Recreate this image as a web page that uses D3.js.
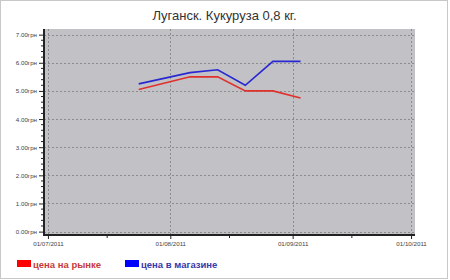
<!DOCTYPE html>
<html>
<head>
<meta charset="utf-8">
<script src="https://cdn.jsdelivr.net/npm/d3@7"></script>
<style>
  body { margin: 0; background: #fff; }
  svg { display: block; font-family: "Liberation Sans", Arial, sans-serif; }
</style>
</head>
<body>
<svg></svg>
<script>
const title = 'Луганск. Кукуруза 0,8 кг.'
const dates = ['2011-07-24', '2011-08-06', '2011-08-13', '2011-08-20', '2011-08-27', '2011-09-03']
const marketPrice = [5.05, 5.5, 5.5, 5.0, 5.0, 4.75]
const shopPrice = [5.25, 5.65, 5.75, 5.2, 6.05, 6.05]
const seriesNames = ['цена на рынке', 'цена в магазине']
const yTicks = [0, 1, 2, 3, 4, 5, 6, 7]
const xTicks = ['2011-07-01', '2011-08-01', '2011-09-01', '2011-10-01']
const xMinorTicks = ['2011-07-16', '2011-08-16', '2011-09-16']

const
    svgWidth = 450,
    svgHeight = 280,
    plot = { left: 44, right: 415, top: 29, bottom: 235 };

const parse = d3.timeParse('%Y-%m-%d')

let svg = d3.select('svg')
    .attr('width', svgWidth)
    .attr('height', svgHeight)

// outer frame
svg.append('rect')
    .attr('x', 0.5).attr('y', 0.5)
    .attr('width', svgWidth - 3).attr('height', svgHeight - 2)
    .attr('fill', '#fff')
    .attr('stroke', '#c8c8c8')

let x = d3.scaleTime()
    .domain([parse('2011-06-30'), parse('2011-10-02')])
    .range([plot.left, plot.right])

let y = d3.scaleLinear()
    .domain([-0.12, 7.2])
    .range([plot.bottom, plot.top])

svg.append('text')
    .attr('x', 224.5)
    .attr('y', 20)
    .attr('text-anchor', 'middle')
    .attr('font-size', 13)
    .attr('fill', '#333')
    .text(title)

svg.append('rect')
    .attr('x', plot.left).attr('y', plot.top)
    .attr('width', plot.right - plot.left)
    .attr('height', plot.bottom - plot.top)
    .attr('fill', '#c2c1c6')

// grid
svg.append('g').selectAll('line')
    .data(yTicks)
    .enter()
    .append('line')
        .attr('x1', plot.left).attr('x2', plot.right)
        .attr('y1', d => Math.round(y(d)) + 0.5)
        .attr('y2', d => Math.round(y(d)) + 0.5)
        .attr('stroke', '#8c8c8c')
        .attr('stroke-dasharray', '2,2')

svg.append('g').selectAll('line')
    .data(xTicks.map(parse))
    .enter()
    .append('line')
        .attr('y1', plot.top).attr('y2', plot.bottom)
        .attr('x1', d => Math.round(x(d)) + 0.5)
        .attr('x2', d => Math.round(x(d)) + 0.5)
        .attr('stroke', '#8c8c8c')
        .attr('stroke-dasharray', '2,2')

// axes
let yAxis = svg.append('g')
    .attr('transform', `translate(${plot.left},0)`)
    .call(d3.axisLeft(y).tickValues(yTicks).tickSize(5).tickPadding(2)
        .tickFormat(d => d3.format('.2f')(d) + 'грн'))
yAxis.append('g').selectAll('line')
    .data(d3.range(0, 35).map(i => i / 5).filter(v => v % 1 !== 0))
    .enter()
    .append('line')
        .attr('x1', -3).attr('x2', 0)
        .attr('y1', d => y(d)).attr('y2', d => y(d))
        .attr('stroke', '#222')

let xAxis = svg.append('g')
    .attr('transform', `translate(0,${plot.bottom})`)
    .call(d3.axisBottom(x).tickValues(xTicks.map(parse)).tickSize(4).tickPadding(3)
        .tickFormat(d3.timeFormat('%d/%m/%Y')))
xAxis.append('g').selectAll('line')
    .data(xMinorTicks.map(parse))
    .enter()
    .append('line')
        .attr('x1', d => x(d)).attr('x2', d => x(d))
        .attr('y1', 0).attr('y2', 3)
        .attr('stroke', '#222')

svg.selectAll('.domain').remove()
svg.selectAll('.tick line').attr('stroke', '#222')
svg.selectAll('.tick text').attr('font-size', 6.2).attr('fill', '#444')
    .attr('font-family', '"Liberation Sans", Arial, sans-serif')

svg.append('line')
    .attr('x1', plot.left).attr('x2', plot.left)
    .attr('y1', plot.top).attr('y2', plot.bottom + 1)
    .attr('stroke', '#222').attr('stroke-width', 2)
svg.append('line')
    .attr('x1', plot.left - 1).attr('x2', plot.right)
    .attr('y1', plot.bottom).attr('y2', plot.bottom)
    .attr('stroke', '#222').attr('stroke-width', 2)

// lines
let line = d3.line()
    .x(d => x(d[0]))
    .y(d => y(d[1]))

const series = [
    { name: seriesNames[0], values: marketPrice, color: '#e0302c', swatch: '#f00', text: '#c83a3a' },
    { name: seriesNames[1], values: shopPrice, color: '#2828d2', swatch: '#00f', text: '#3838a8' }
]

svg.selectAll('path.series')
    .data(series)
    .enter()
    .append('path')
        .attr('class', 'series')
        .attr('d', s => line(dates.map((d, i) => [parse(d), s.values[i]])))
        .attr('fill', 'none')
        .attr('stroke', s => s.color)
        .attr('stroke-width', 1.6)

// legend
let legend = svg.selectAll('g.legend')
    .data(series)
    .enter()
    .append('g')
        .attr('class', 'legend')
        .attr('transform', (d, i) => `translate(${[17 + i * 108, 260]})`)

legend.append('rect')
    .attr('width', 14).attr('height', 7)
    .attr('fill', s => s.swatch)

legend.append('text')
    .attr('x', 16).attr('y', 7.5)
    .attr('font-size', 9.5)
    .attr('font-weight', 'bold')
    .attr('fill', s => s.text)
    .text(s => s.name)
</script>
</body>
</html>
